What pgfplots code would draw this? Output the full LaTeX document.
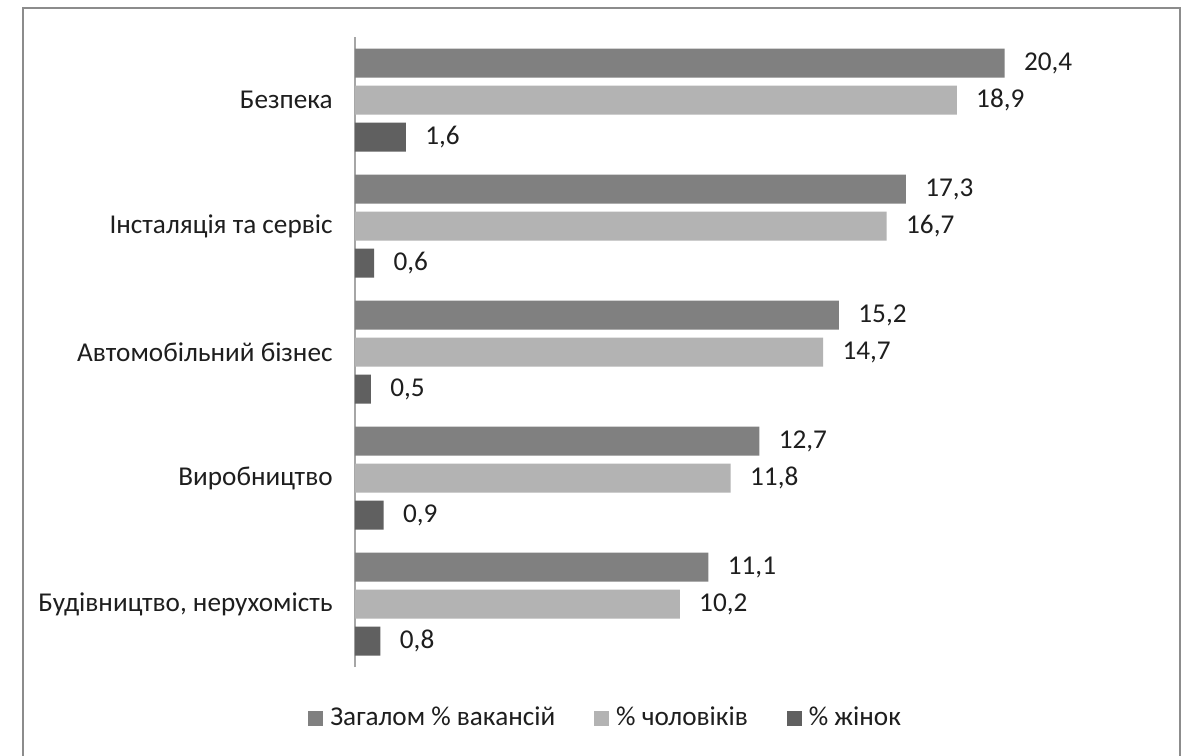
\documentclass[border=0pt]{standalone}
\usepackage{pgfplots}
\pgfplotsset{compat=1.18}
\usepackage{fontspec}
\setmainfont{Carlito}

\definecolor{sTotal}{HTML}{808080}
\definecolor{sMen}{HTML}{B3B3B3}
\definecolor{sWomen}{HTML}{606060}
\definecolor{frameGray}{HTML}{8C8C8C}
\definecolor{axisGray}{HTML}{A6A6A6}
\definecolor{txt}{HTML}{1E1E1E}

\begin{document}
\fontsize{13.6}{16}\selectfont
\begin{tikzpicture}
  % page extent and outer frame
  \useasboundingbox (-177.5pt,-44pt) rectangle (416pt,333.5pt);
  \fill[white] (-177.5pt,-44pt) rectangle (416pt,333.5pt);
  \draw[frameGray, line width=1.3pt] (-166pt,-60pt) -- (-166pt,329.5pt) -- (412.5pt,329.5pt) -- (412.5pt,-60pt);

  \begin{axis}[
    at={(0pt,0pt)}, anchor=south west,
    scale only axis,
    width=398pt, height=315pt,
    xbar, bar width=14.5pt,
    xmin=0, xmax=25,
    ymin=0.5, ymax=5.5,
    hide x axis,
    axis lines*=left,
    y axis line style={draw=axisGray, line width=0.8pt, -},
    major tick length=0pt,
    ytick={1,2,3,4,5},
    yticklabels={{Будівництво, нерухомість}, {Виробництво}, {Автомобільний бізнес\hspace{4pt}}, {Інсталяція та сервіс}, {Безпека}},
    yticklabel style={inner sep=0pt, xshift=-11pt, text=txt, font=\fontsize{13.6}{16}\selectfont},
    /pgf/number format/.cd, use comma, fixed, fixed zerofill, precision=1, assume math mode=true,
    /pgfplots/.cd,
    nodes near coords,
    nodes near coords style={anchor=west, xshift=5pt, text=txt, font=\fontsize{13.6}{16}\selectfont},
    legend columns=-1,
    legend style={at={(0.318,-0.081)}, anchor=center, draw=none, fill=none,
      font=\fontsize{13.6}{16}\selectfont, text=txt,
      /tikz/every even column/.append style={column sep=16pt},
      nodes={inner xsep=3.5pt}},
    legend image code/.code={\fill[#1] (0pt,-3.75pt) rectangle (7.5pt,3.75pt);},
  ]
    \addplot[fill=sTotal, draw=none, bar shift=18.5pt]
      coordinates {(20.4,5) (17.3,4) (15.2,3) (12.7,2) (11.1,1)};
    \addplot[fill=sMen, draw=none, bar shift=0pt]
      coordinates {(18.9,5) (16.7,4) (14.7,3) (11.8,2) (10.2,1)};
    \addplot[fill=sWomen, draw=none, bar shift=-18.5pt]
      coordinates {(1.6,5) (0.6,4) (0.5,3) (0.9,2) (0.8,1)};
    \legend{Загалом \% вакансій, \% чоловіків, \% жінок}
  \end{axis}
\end{tikzpicture}
\end{document}
